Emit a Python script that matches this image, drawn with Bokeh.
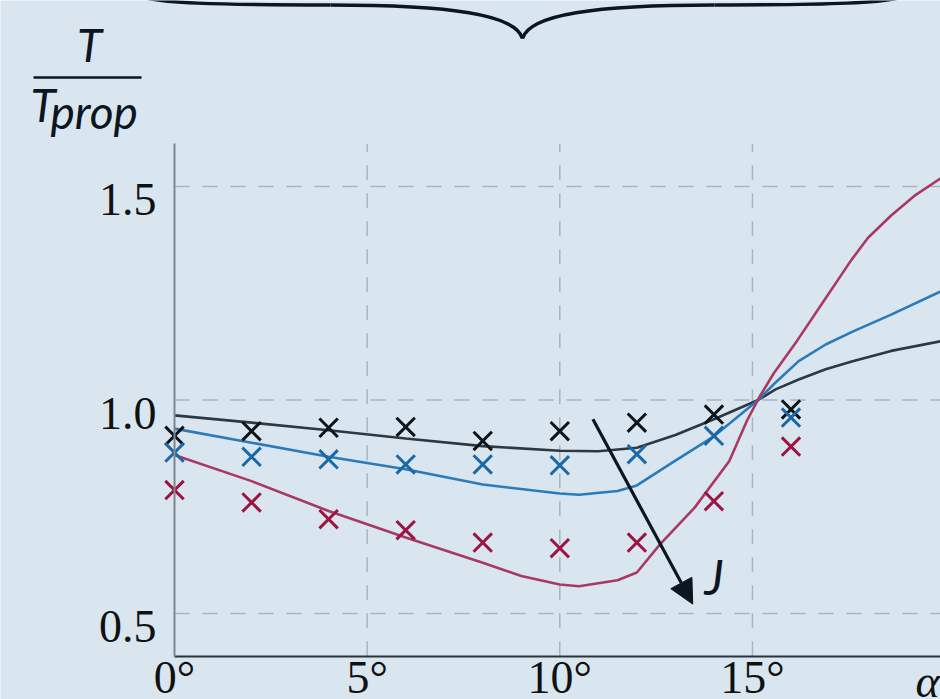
from bokeh.plotting import figure
from bokeh.models import Range1d, Arrow, NormalHead
from bokeh.core.properties import value
from bokeh.embed import file_html
from bokeh.resources import INLINE

# ---------------- data ----------------
alpha_meas = [0, 2, 4, 6, 8, 10, 12, 14, 16]
meas_black = [0.916, 0.927, 0.935, 0.937, 0.904, 0.927, 0.947, 0.966, 0.978]
meas_blue = [0.877, 0.867, 0.861, 0.849, 0.849, 0.847, 0.873, 0.916, 0.959]
meas_red = [0.789, 0.760, 0.721, 0.695, 0.666, 0.653, 0.666, 0.763, 0.891]

curve_black_x = [0, 2, 4, 6, 8, 10, 11, 12, 13, 14, 15.15, 15.6, 16.2, 16.9, 17.6, 18.6, 19.9]
curve_black_y = [0.964, 0.947, 0.929, 0.910, 0.892, 0.881, 0.880, 0.888, 0.918, 0.955, 1.0,
                 1.025, 1.048, 1.072, 1.091, 1.115, 1.138]

curve_blue_x = [0, 2, 4, 6, 8, 10, 10.5, 11.5, 12, 13, 14, 15.15, 15.6, 16.2, 16.9, 17.6, 18.6, 19.9]
curve_blue_y = [0.933, 0.900, 0.867, 0.838, 0.802, 0.781, 0.778, 0.787, 0.800, 0.858, 0.915, 1.0,
                1.041, 1.091, 1.130, 1.160, 1.200, 1.255]

curve_red_x = [0, 2, 4, 6, 8, 9, 10, 10.5, 11.5, 12, 12.6, 13.5, 14.4, 14.86, 15.2, 15.55, 16.16,
               16.86, 17.56, 18.0, 18.6, 19.2, 19.9]
curve_red_y = [0.871, 0.810, 0.740, 0.678, 0.619, 0.588, 0.568, 0.564, 0.578, 0.596, 0.662, 0.748,
               0.857, 0.952, 1.010, 1.062, 1.139, 1.233, 1.327, 1.380, 1.432, 1.478, 1.520]

x_ticks = [0, 5, 10, 15]
x_tick_labels = ["0°", "5°", "10°", "15°"]
y_ticks = [0.5, 1.0, 1.5]
y_tick_labels = ["0.5", "1.0", "1.5"]

x_min, x_max = 0, 19.67
y_min, y_max = 0.4, 1.6

arrow_start = (10.86, 0.955)
arrow_end = (13.45, 0.522)

# ---------------- styles ----------------
BG = "#d9e6f0"
C_BLACK_LINE = "#2d3840"
C_BLUE_LINE = "#2c7bb8"
C_RED_LINE = "#a83a62"
C_BLACK_M = "#0e141a"
C_BLUE_M = "#1b68a6"
C_RED_M = "#9c1440"
GRID = "#aab4bd"
INK = "#0c1620"
TXT = "#111111"

W, H = 940, 699
TXT_SHIFT = 17  # compensates the renderer's alphabetic-baseline placement


# canvas pixel -> data helpers (for decorations only)
def px2x(px):
    return (px - 174) / 38.53


def px2y(py):
    return 1 - (py - 399.5) / 427.0


p = figure(width=W, height=H, x_range=Range1d(px2x(0), px2x(W)),
           y_range=Range1d(px2y(H), px2y(0)),
           output_backend="svg", toolbar_location=None, min_border=0)
p.background_fill_color = BG
p.border_fill_color = BG
p.outline_line_color = None
p.grid.visible = False

# axes placed at data locations
p.xaxis.fixed_location = y_min
p.xaxis.bounds = (x_min, px2x(W))
p.yaxis.fixed_location = x_min
p.yaxis.bounds = (y_min, y_max)

p.xaxis.ticker = x_ticks
p.xaxis.major_label_overrides = {t: l for t, l in zip(x_ticks, x_tick_labels)}
p.yaxis.ticker = y_ticks
p.yaxis.major_label_overrides = {t: "" for t in y_ticks}

for ax in (p.xaxis[0], p.yaxis[0]):
    ax.major_tick_line_color = None
    ax.minor_tick_line_color = None
    ax.major_tick_in = 0
    ax.major_tick_out = 0
    ax.major_label_text_font = "Liberation Serif"
    ax.major_label_text_font_size = "46px"
    ax.major_label_text_color = TXT

p.xaxis.axis_line_color = "#2a333b"
p.xaxis.axis_line_width = 2
p.xaxis.major_label_standoff = -4
p.yaxis.axis_line_color = "#7d8790"
p.yaxis.axis_line_width = 2

# y tick labels (sit slightly below their grid lines, as in the reference)
p.text(x=[x_min] * len(y_ticks), y=y_ticks, text=y_tick_labels,
       text_font=value("Liberation Serif"), text_font_size="46px", text_color=TXT,
       text_align="right", text_baseline="middle", x_offset=-18, y_offset=13)

# dashed grid lines from the tick arrays
gx = x_ticks[1:]
p.segment(x0=gx, y0=[y_min] * len(gx), x1=gx, y1=[y_max] * len(gx),
          line_color=GRID, line_width=1.5, line_dash="15 13")
p.segment(x0=[x_min] * len(y_ticks), y0=y_ticks, x1=[px2x(W)] * len(y_ticks), y1=y_ticks,
          line_color=GRID, line_width=1.5, line_dash="15 13")

# model curves
p.line(curve_black_x, curve_black_y, line_color=C_BLACK_LINE, line_width=2.6)
p.line(curve_blue_x, curve_blue_y, line_color=C_BLUE_LINE, line_width=2.6)
p.line(curve_red_x, curve_red_y, line_color=C_RED_LINE, line_width=2.6)

# measurements
p.scatter(alpha_meas, meas_black, marker="x", size=26, line_width=3, line_color=C_BLACK_M)
p.scatter(alpha_meas, meas_blue, marker="x", size=26, line_width=3, line_color=C_BLUE_M)
p.scatter(alpha_meas, meas_red, marker="x", size=26, line_width=3, line_color=C_RED_M)

# J arrow
p.add_layout(Arrow(end=NormalHead(size=24, fill_color=INK, line_color=INK, line_width=1),
                   x_start=arrow_start[0], y_start=arrow_start[1],
                   x_end=arrow_end[0], y_end=arrow_end[1],
                   line_color=INK, line_width=3.2))
p.text(x=[px2x(704)], y=[px2y(593 - TXT_SHIFT)], text=["J"], text_font=value("Lato"),
       text_font_style="italic", text_font_size="48px", text_color=INK,
       text_baseline="alphabetic", text_align="left")

# alpha axis name at the right end
p.text(x=[px2x(915)], y=[y_min], text=["α"], text_font=value("Liberation Serif"),
       text_font_style="italic", text_font_size="46px", text_color=TXT,
       text_baseline="top", text_align="left")

# y label: T / T_prop
p.text(x=[px2x(89)], y=[px2y(61 - TXT_SHIFT)], text=["T"], text_font=value("Lato"),
       text_font_style="italic", text_font_size="46px", text_color=INK,
       text_align="center", text_baseline="alphabetic")
p.segment(x0=[px2x(33)], y0=[px2y(77)], x1=[px2x(141)], y1=[px2y(77)],
          line_color=INK, line_width=2.5)
p.text(x=[px2x(30)], y=[px2y(121 - TXT_SHIFT)], text=["T"], text_font=value("Lato"),
       text_font_style="italic", text_font_size="46px", text_color=INK,
       text_align="left", text_baseline="alphabetic")
p.text(x=[px2x(50)], y=[px2y(128 - TXT_SHIFT)], text=["prop"], text_font=value("Lato"),
       text_font_style="italic", text_font_size="46px", text_color=INK,
       text_align="left", text_baseline="alphabetic")

# curly brace at the top
seg = [((135, -6), (150, 3), (220, 4.5), (330, 4.5)),
       ((330, 4.5), (450, 4.5), (515, 14), (522, 38))]
bx0, by0, bx1, by1, bcx0, bcy0, bcx1, bcy1 = [], [], [], [], [], [], [], []
for P0, C0, C1, P1 in seg:
    for mirror in (False, True):
        f = (lambda x: 1044 - x) if mirror else (lambda x: x)
        bx0.append(px2x(f(P0[0]))); by0.append(px2y(P0[1]))
        bcx0.append(px2x(f(C0[0]))); bcy0.append(px2y(C0[1]))
        bcx1.append(px2x(f(C1[0]))); bcy1.append(px2y(C1[1]))
        bx1.append(px2x(f(P1[0]))); by1.append(px2y(P1[1]))
p.bezier(x0=bx0, y0=by0, x1=bx1, y1=by1, cx0=bcx0, cy0=bcy0, cx1=bcx1, cy1=bcy1,
         line_color=INK, line_width=3.5)

open("out.html", "w").write(file_html(p, INLINE))
